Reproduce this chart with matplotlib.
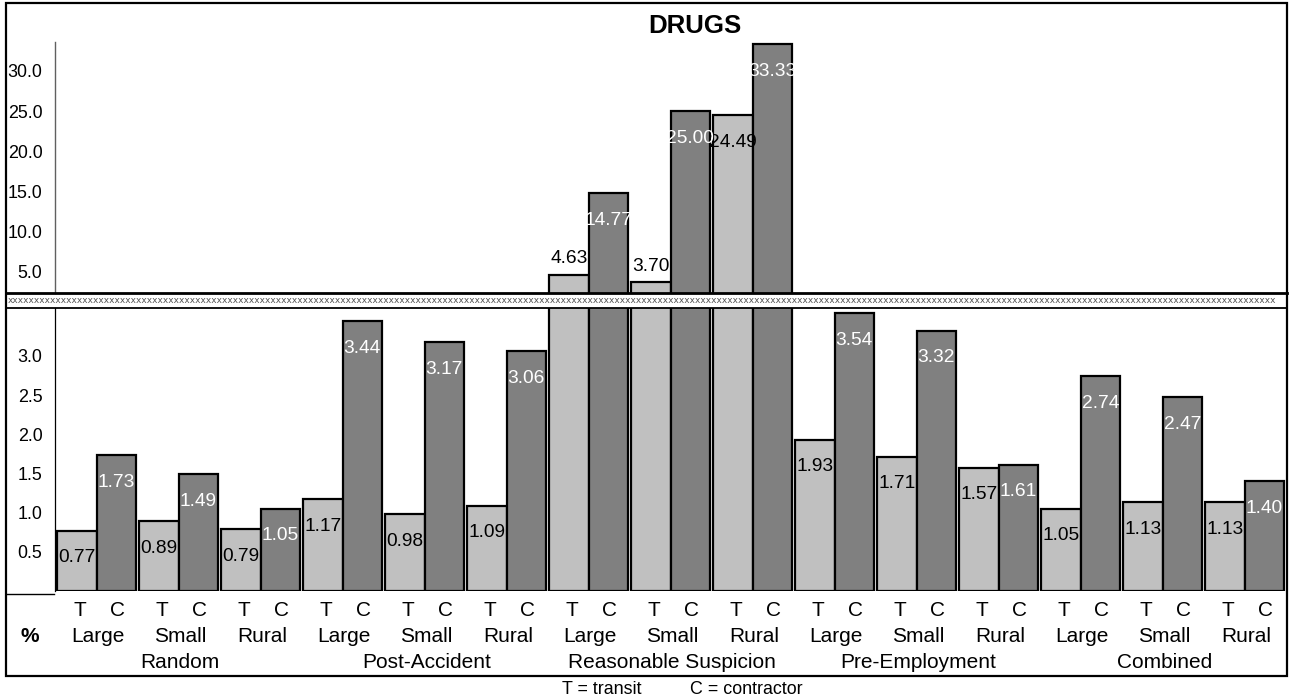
import matplotlib
matplotlib.use("Agg")
import matplotlib.pyplot as plt
import matplotlib.transforms as mtransforms
from matplotlib import font_manager
from matplotlib.font_manager import FontProperties
from matplotlib.lines import Line2D
from matplotlib.patches import Rectangle
import numpy as np

# data
test_types = ["Random", "Post-Accident", "Reasonable Suspicion", "Pre-Employment", "Combined"]
sizes = ["Large", "Small", "Rural"]
transit = [0.77, 0.89, 0.79, 1.17, 0.98, 1.09, 4.63, 3.70, 24.49,
           1.93, 1.71, 1.57, 1.05, 1.13, 1.13]
contractor = [1.73, 1.49, 1.05, 3.44, 3.17, 3.06, 14.77, 25.00, 33.33,
              3.54, 3.32, 1.61, 2.74, 2.47, 1.40]
top_ticks = [5, 10, 15, 20, 25, 30]
top_ticklabels = ["5.0", "10.0", "15.0", "20.0", "25.0", "30.0"]
bot_ticks = [0.5, 1.0, 1.5, 2.0, 2.5, 3.0]
bot_ticklabels = ["0.5", "1.0", "1.5", "2.0", "2.5", "3.0"]

W, H = 1289, 700


def fx(px):
    return px / W


def fy(py):
    return 1 - py / H


def pick_font(names, default):
    for n in names:
        try:
            font_manager.findfont(FontProperties(family=n), fallback_to_default=False)
            return n, True
        except ValueError:
            pass
    return default, False


regular, _ = pick_font(["Liberation Sans", "Arial"], "DejaVu Sans")
narrow, has_narrow = pick_font(["Liberation Sans Narrow", "Arial Narrow"], regular)
nscale = 1.0 if has_narrow else 0.86

T_COLOR = "#c0c0c0"
C_COLOR = "#808080"
BAR_W = 0.479
BOT_LIM = (0, 3.61)
TOP_LIM = (2.37, 33.6)

fig = plt.figure(figsize=(W / 100, H / 100), dpi=100)
ax_top = fig.add_axes([fx(55), fy(293), fx(1287) - fx(55), (293 - 42) / H])
ax_bot = fig.add_axes([fx(55), fy(591), fx(1287) - fx(55), (591 - 308) / H])

x = np.arange(len(transit))
xlim = (-0.028, -0.028 + 1232 / 82)


def draw_bars(ax, ylim, only_over=None):
    lo, hi = ylim
    for off, vals, col, tcol in ((0, transit, T_COLOR, "black"),
                                 (BAR_W, contractor, C_COLOR, "white")):
        for xi, v in zip(x, vals):
            # the top panel only carries the bars that break out of the bottom one
            if only_over is not None and v <= only_over:
                continue
            ax.bar(xi + off, v, width=BAR_W, align="edge", color=col,
                   edgecolor="black", linewidth=1.6)
            if v <= lo or v >= hi:
                continue
            if ax is ax_top and v - lo < 3:
                dy, c = 11.5, "black"
            else:
                dy, c = -19.4, tcol
            ax.annotate(f"{v:.2f}", (xi + off + BAR_W / 2, v), xytext=(0, dy),
                        textcoords="offset points", ha="center", va="center",
                        color=c, fontsize=16 * nscale, family=narrow)
    ax.set_xlim(*xlim)
    ax.set_ylim(*ylim)
    ax.set_xticks([])
    for s in ("top", "right", "bottom"):
        ax.spines[s].set_visible(False)
    ax.tick_params(axis="y", length=0, pad=9)


draw_bars(ax_bot, BOT_LIM)
draw_bars(ax_top, TOP_LIM, only_over=BOT_LIM[1])

ax_top.set_yticks(top_ticks)
ax_top.set_yticklabels(top_ticklabels, fontsize=15 * nscale, family=narrow)
ax_bot.set_yticks(bot_ticks)
ax_bot.set_yticklabels(bot_ticklabels, fontsize=15 * nscale, family=narrow)
ax_top.spines["left"].set_color("#606060")
ax_top.spines["left"].set_linewidth(1.0)
ax_bot.spines["left"].set_linewidth(0.9)

# outer frame, break lines and the xxx row
fig.add_artist(Rectangle((fx(6), fy(676)), fx(1287) - fx(6), (676 - 3) / H,
                         transform=fig.transFigure, fill=False, lw=1.6, ec="black"))
fig.add_artist(Line2D([fx(6), fx(1287)], [fy(293), fy(293)], lw=2.0, color="black"))
fig.add_artist(Line2D([fx(6), fx(1287)], [fy(307.5), fy(307.5)], lw=1.3, color="black"))
fig.add_artist(Line2D([fx(6), fx(54)], [fy(594), fy(594)], lw=1.0, color="black"))
fig.text(fx(8), fy(300.5), "x" * 236, fontsize=6.5, family="DejaVu Sans",
         color="#555555", ha="left", va="center")

fig.text(fx(695), fy(26), "DRUGS", fontsize=18.6, fontweight="bold", family=regular,
         ha="center", va="center")

# category labels under the bars
blend = mtransforms.blended_transform_factory(ax_bot.transData, fig.transFigure)
for i in x:
    fig.text(i + BAR_W / 2 + 0.04, fy(611), "T", transform=blend, ha="center",
             va="center", fontsize=15, family=regular)
    fig.text(i + 1.5 * BAR_W + 0.02, fy(611), "C", transform=blend, ha="center",
             va="center", fontsize=15, family=regular)
    fig.text(i + BAR_W + 0.02, fy(637), sizes[i % 3], transform=blend, ha="center",
             va="center", fontsize=15, family=regular)
for j, name in enumerate(test_types):
    fig.text(3 * j + 1.5, fy(662), name, transform=blend, ha="center",
             va="center", fontsize=15, family=regular)
fig.text(fx(30), fy(637), "%", fontsize=15, fontweight="bold", family=regular,
         ha="center", va="center")

fig.text(fx(602), fy(689), "T = transit", fontsize=15 * nscale, family=narrow,
         ha="center", va="center")
fig.text(fx(746), fy(689), "C = contractor", fontsize=15 * nscale, family=narrow,
         ha="center", va="center")

fig.savefig("out.png", dpi=100)
